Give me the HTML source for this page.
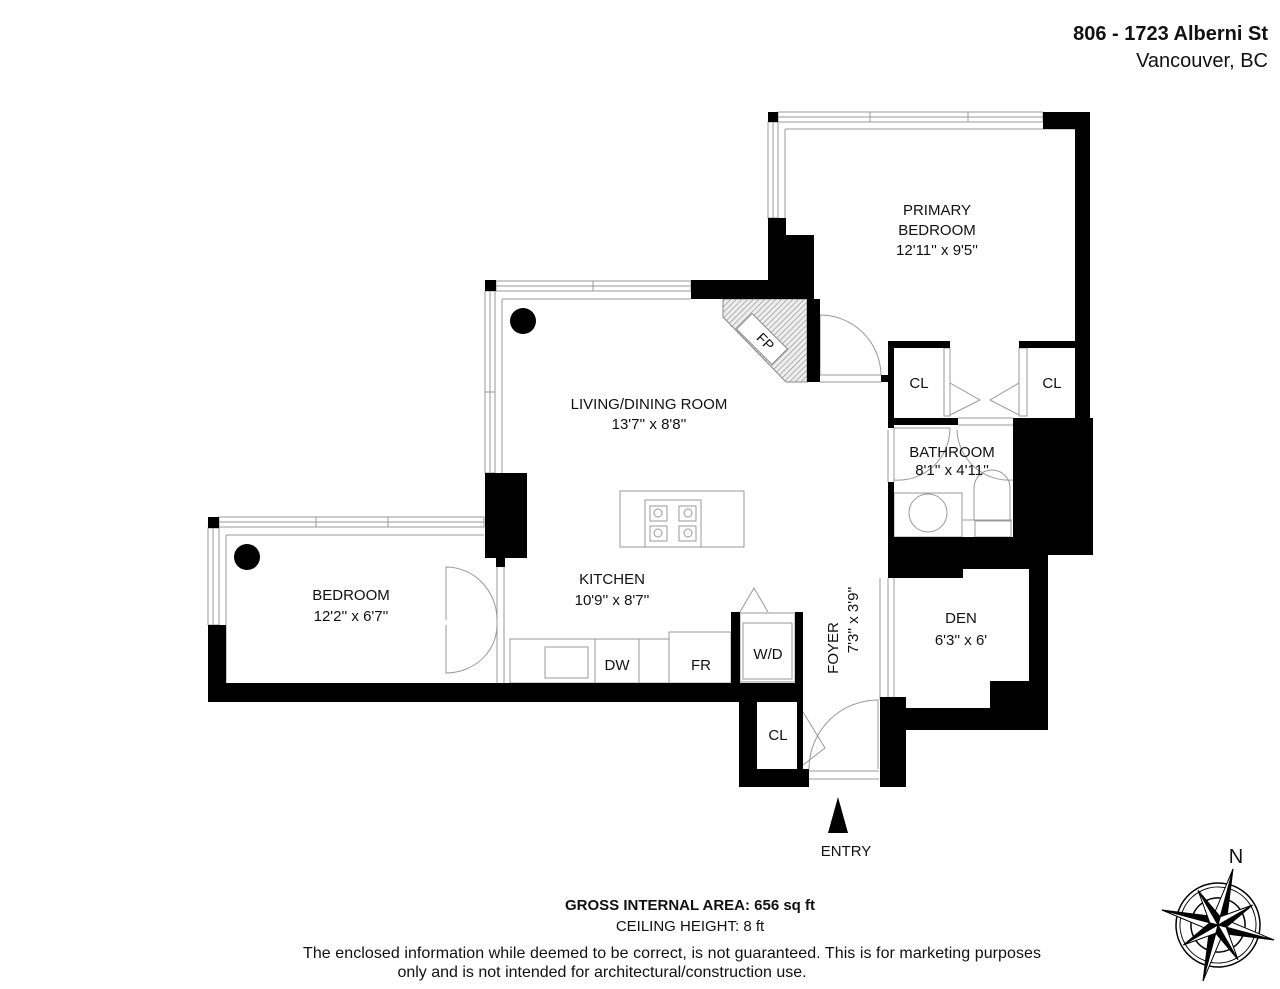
<!DOCTYPE html>
<html><head><meta charset="utf-8"><style>
html,body{margin:0;padding:0;background:#fff}
svg{display:block}
text{font-family:"Liberation Sans",sans-serif;fill:#111}
</style></head><body>
<svg width="1280" height="989" viewBox="0 0 1280 989" xmlns="http://www.w3.org/2000/svg">
<defs>
<pattern id="h" width="4" height="4" patternUnits="userSpaceOnUse" patternTransform="rotate(45)">
<rect width="4" height="4" fill="#eee"/><line x1="0" y1="0" x2="0" y2="4" stroke="#888" stroke-width="1.2"/></pattern>
</defs>
<g fill="none" stroke="#999" stroke-width="1">
<rect x="778" y="112" width="265" height="10"/><line x1="778" y1="117" x2="1043" y2="117"/>
<line x1="870" y1="112" x2="870" y2="122"/><line x1="968" y1="112" x2="968" y2="122"/>
<line x1="785" y1="129" x2="1075" y2="129"/>
<rect x="768" y="122" width="10" height="96"/><line x1="773" y1="122" x2="773" y2="218"/>
<line x1="785" y1="129" x2="785" y2="240"/>
<rect x="496" y="281" width="195" height="10"/><line x1="496" y1="286" x2="691" y2="286"/>
<line x1="593" y1="281" x2="593" y2="291"/>
<line x1="502" y1="299" x2="691" y2="299"/>
<rect x="485" y="291" width="10" height="182"/><line x1="490" y1="291" x2="490" y2="473"/>
<line x1="485" y1="392" x2="495" y2="392"/>
<line x1="502" y1="299" x2="502" y2="473"/>
<rect x="219" y="517" width="265" height="10"/><line x1="219" y1="522" x2="484" y2="522"/>
<line x1="316" y1="517" x2="316" y2="527"/><line x1="388" y1="517" x2="388" y2="527"/>
<line x1="226" y1="535" x2="484" y2="535"/>
<rect x="208" y="528" width="11" height="97"/><line x1="213" y1="528" x2="213" y2="625"/>
<line x1="226" y1="535" x2="226" y2="683"/>
<line x1="497" y1="558" x2="497" y2="683"/><line x1="504" y1="558" x2="504" y2="683"/>
<path d="M446 620 L446 567 A51 53 0 0 1 497 620"/>
<path d="M446 625 L446 673 A51 48 0 0 0 497 625"/>
<line x1="820" y1="375" x2="881" y2="375"/><line x1="820" y1="382" x2="881" y2="382"/>
<path d="M820 375 L820 315 A61 61 0 0 1 881 375"/>
<rect x="944" y="348" width="6" height="68"/>
<rect x="1019" y="348" width="8" height="68"/>
<path d="M950 383 L980 400 L950 415"/><path d="M1019 383 L990 400 L1019 415"/>
<line x1="958" y1="418" x2="1013" y2="418"/><line x1="958" y1="425" x2="1013" y2="425"/>
<line x1="888" y1="430" x2="888" y2="482"/><line x1="894" y1="428" x2="894" y2="482"/>
<path d="M894 428 L950 428 A52 52 0 0 1 894 480"/>
<path d="M957 430 A52 52 0 0 0 1013 480"/>
<rect x="894" y="493" width="68" height="44"/>
<path d="M962 493 L962 520 L1012 520"/>
<circle cx="928" cy="513" r="19"/>
<path d="M974 520 L974 488 A18 18 0 0 1 1010 488 L1010 520"/>
<rect x="975" y="521" width="36" height="16"/>
<line x1="888" y1="578" x2="888" y2="697"/><line x1="894" y1="578" x2="894" y2="697"/>
<rect x="620" y="491" width="124" height="56"/>
<rect x="645" y="500" width="56" height="47"/>
<rect x="650" y="506" width="17" height="15"/><rect x="679" y="506" width="17" height="15"/>
<rect x="650" y="526" width="17" height="15"/><rect x="679" y="526" width="17" height="15"/>
<circle cx="658" cy="513" r="4"/><circle cx="688" cy="513" r="4"/><circle cx="658" cy="533" r="4"/><circle cx="688" cy="533" r="4"/>
<rect x="510" y="639" width="159" height="44"/>
<rect x="545" y="647" width="43" height="31"/>
<line x1="595" y1="639" x2="595" y2="683"/><line x1="639" y1="639" x2="639" y2="683"/>
<rect x="669" y="632" width="62" height="51"/>
<rect x="740" y="613" width="55" height="69"/><rect x="743" y="623" width="49" height="56"/>
<path d="M740 612 L754 588 L768 612"/>
<line x1="809" y1="771" x2="879" y2="771"/><line x1="809" y1="779" x2="879" y2="779"/>
<path d="M878 769 L878 700 A69 69 0 0 0 809 769"/>
<path d="M803 712 L825 748 L803 765"/>
<line x1="880" y1="578" x2="880" y2="700"/>
</g>
<polygon points="723,299 807,299 807,382 786,382 723,317" fill="url(#h)" stroke="#888"/>
<rect x="737" y="328" width="50" height="22" transform="rotate(45 762 339)" fill="#fff" stroke="#888"/>
<g fill="#000">
<rect x="768" y="112" width="10" height="10"/>
<rect x="1043" y="112" width="47" height="17"/>
<rect x="1075" y="112" width="15" height="306"/>
<rect x="768" y="218" width="18" height="64"/>
<rect x="786" y="235" width="28" height="64"/>
<rect x="691" y="280" width="123" height="19"/>
<rect x="807" y="299" width="13" height="83"/>
<rect x="485" y="280" width="11" height="11"/>
<rect x="485" y="473" width="42" height="85"/>
<rect x="208" y="517" width="11" height="11"/>
<rect x="208" y="625" width="18" height="77"/>
<rect x="208" y="683" width="595" height="19"/>
<rect x="496" y="558" width="9" height="9"/>
<rect x="881" y="375" width="8" height="7"/>
<rect x="888" y="341" width="62" height="7"/>
<rect x="888" y="341" width="6" height="87"/>
<rect x="888" y="418" width="70" height="7"/>
<rect x="1019" y="341" width="56" height="7"/>
<rect x="1013" y="418" width="80" height="137"/>
<rect x="888" y="482" width="6" height="60"/>
<rect x="888" y="537" width="160" height="32"/>
<rect x="888" y="569" width="75" height="9"/>
<rect x="1029" y="555" width="19" height="175"/>
<rect x="990" y="681" width="50" height="49"/>
<rect x="888" y="708" width="160" height="22"/>
<rect x="880" y="697" width="26" height="90"/>
<rect x="731" y="612" width="9" height="90"/>
<rect x="795" y="612" width="8" height="90"/>
<rect x="739" y="702" width="18" height="85"/>
<rect x="739" y="769" width="70" height="18"/>
<rect x="797" y="702" width="6" height="67"/>
<circle cx="523" cy="321" r="13"/>
<circle cx="247" cy="557" r="13"/>
<polygon points="838,797 828,833 848,833"/>
</g>
<g font-size="15" text-anchor="middle">
<text x="937" y="215">PRIMARY</text><text x="937" y="235">BEDROOM</text>
<text x="937" y="255">12'11'' x 9'5''</text>
<text x="649" y="409">LIVING/DINING ROOM</text><text x="649" y="429">13'7'' x 8'8''</text>
<text x="952" y="457">BATHROOM</text><text x="952" y="475">8'1'' x 4'11''</text>
<text x="612" y="584">KITCHEN</text><text x="612" y="605">10'9'' x 8'7''</text>
<text x="351" y="600">BEDROOM</text><text x="351" y="621">12'2'' x 6'7''</text>
<text x="961" y="623">DEN</text><text x="961" y="645">6'3'' x 6'</text>
<text x="919" y="388">CL</text><text x="1052" y="388">CL</text>
<text x="778" y="740">CL</text>
<text x="617" y="670">DW</text><text x="701" y="670">FR</text><text x="768" y="659">W/D</text>
<text x="846" y="856">ENTRY</text>
<text transform="translate(838 648) rotate(-90)">FOYER</text>
<text transform="translate(858 620) rotate(-90)">7'3'' x 3'9''</text>
<text transform="translate(762 345) rotate(45)" font-size="14">FP</text>
</g>
<text x="1268" y="40" text-anchor="end" font-size="20" font-weight="bold">806 - 1723 Alberni St</text>
<text x="1268" y="67" text-anchor="end" font-size="20" fill="#333">Vancouver, BC</text>
<g text-anchor="middle" font-size="15">
<text x="690" y="910" font-weight="bold">GROSS INTERNAL AREA: 656 sq ft</text>
<text x="690" y="931">CEILING HEIGHT: 8 ft</text>
<text x="672" y="958" font-size="16" textLength="738">The enclosed information while deemed to be correct, is not guaranteed. This is for marketing  purposes</text>
<text x="602" y="977" font-size="16">only and is not intended for architectural/construction use.</text>
</g>
<text x="1236" y="863" font-size="20" text-anchor="middle" fill="#222">N</text>
<g transform="translate(1218 925) rotate(15)">
<circle r="42" fill="none" stroke="#000" stroke-width="1.5"/>
<circle r="38" fill="none" stroke="#000" stroke-width="1"/>
<circle r="27" fill="none" stroke="#000" stroke-width="1.5"/>
<g fill="#000" stroke="#000" stroke-width="1">
<polygon points="0,-58 7,-7 0,0"/><polygon points="0,-58 -7,-7 0,0" fill="#fff"/>
<polygon points="58,0 7,7 0,0"/><polygon points="58,0 7,-7 0,0" fill="#fff"/>
<polygon points="0,58 -7,7 0,0"/><polygon points="0,58 7,7 0,0" fill="#fff"/>
<polygon points="-58,0 -7,-7 0,0"/><polygon points="-58,0 -7,7 0,0" fill="#fff"/>
<g transform="rotate(45)">
<polygon points="0,-40 6,-6 0,0"/><polygon points="0,-40 -6,-6 0,0" fill="#fff"/>
<polygon points="40,0 6,6 0,0"/><polygon points="40,0 6,-6 0,0" fill="#fff"/>
<polygon points="0,40 -6,6 0,0"/><polygon points="0,40 6,6 0,0" fill="#fff"/>
<polygon points="-40,0 -6,-6 0,0"/><polygon points="-40,0 -6,6 0,0" fill="#fff"/>
</g></g></g>
</svg>
</body></html>
